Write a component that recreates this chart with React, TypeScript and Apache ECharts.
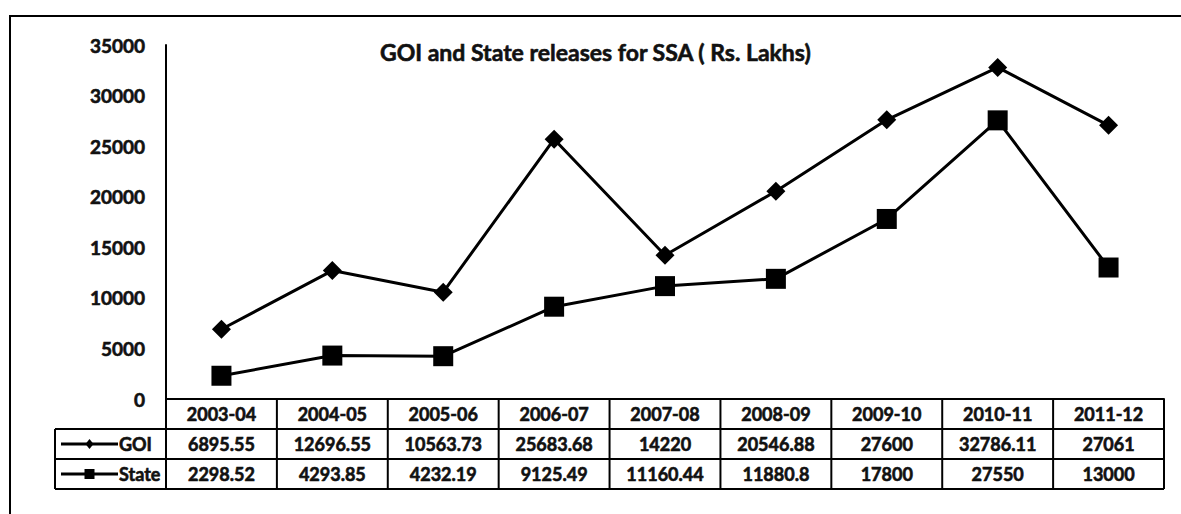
import React, { useEffect, useRef } from "react";
import * as echarts from "echarts";

// Financial years shown on the category axis / table header
const categories = [
  "2003-04",
  "2004-05",
  "2005-06",
  "2006-07",
  "2007-08",
  "2008-09",
  "2009-10",
  "2010-11",
  "2011-12",
];

// Releases in Rs. Lakhs
const goiValues = [6895.55, 12696.55, 10563.73, 25683.68, 14220, 20546.88, 27600, 32786.11, 27061];
const stateValues = [2298.52, 4293.85, 4232.19, 9125.49, 11160.44, 11880.8, 17800, 27550, 13000];

const seriesNames = ["GOI", "State"];
const titleText = "GOI and State releases for SSA ( Rs. Lakhs)";

const FONT = 'Lato, "Open Sans", sans-serif';
const INK = "#000";
const TEXT = "#111";

export default function App() {
  const ref = useRef<HTMLDivElement>(null);

  useEffect(() => {
    document.body.style.margin = "0";
    const chart = echarts.init(ref.current!, null, { renderer: "svg" });

    const gridLeft = 166;
    const gridRight = 1164;
    const gridTop = 45;
    const axisY = 399;
    const rowH = 30;
    const legendLeft = 55;

    const heavy = { textBorderColor: TEXT, textBorderWidth: 0.6 };

    chart.setOption({
      animation: false,
      backgroundColor: "#fff",
      title: {
        text: titleText,
        left: 380,
        top: 40,
        padding: 0,
        textStyle: { fontFamily: FONT, fontWeight: "bold", fontSize: 23, color: TEXT, ...heavy },
      },
      grid: {
        left: gridLeft,
        top: gridTop,
        width: gridRight - gridLeft,
        height: axisY - gridTop,
      },
      xAxis: {
        type: "category",
        data: categories,
        boundaryGap: true,
        axisLine: { show: true, lineStyle: { color: INK, width: 2 } },
        axisTick: { show: false },
        axisLabel: {
          interval: 0,
          margin: 6,
          fontFamily: FONT,
          fontWeight: "bold",
          fontSize: 18,
          color: TEXT,
          ...heavy,
        },
        splitLine: { show: false },
      },
      yAxis: {
        type: "value",
        min: 0,
        max: 35000,
        interval: 5000,
        axisLine: { show: true, lineStyle: { color: INK, width: 2 } },
        axisTick: { show: false },
        splitLine: { show: false },
        axisLabel: {
          margin: 21,
          formatter: (v: number) => String(v),
          fontFamily: FONT,
          fontWeight: "bold",
          fontSize: 19,
          color: TEXT,
          ...heavy,
        },
      },
      series: [
        {
          name: seriesNames[0],
          type: "line",
          data: goiValues,
          symbol: "diamond",
          symbolSize: 19,
          lineStyle: { color: INK, width: 3 },
          itemStyle: { color: INK },
        },
        {
          name: seriesNames[1],
          type: "line",
          data: stateValues,
          symbol: "rect",
          symbolSize: 20,
          lineStyle: { color: INK, width: 3 },
          itemStyle: { color: INK },
        },
      ],
    });

    // Data table under the plot, aligned to the category axis
    const n = categories.length;
    const colW = (gridRight - gridLeft) / n;
    const centers = categories.map((_, i) => chart.convertToPixel({ xAxisIndex: 0 }, i) as number);
    const tableBottom = axisY + 3 * rowH;
    const lineStyle = { stroke: INK, lineWidth: 2 };
    const cellText = {
      fontFamily: FONT,
      fontWeight: "bold",
      fontSize: 18,
      fill: TEXT,
      stroke: TEXT,
      lineWidth: 0.6,
    };

    const elements: any[] = [];

    // outer frame
    elements.push({
      type: "rect",
      shape: { x: 10, y: 16, width: 1300, height: 700 },
      style: { fill: "none", stroke: INK, lineWidth: 2 },
      silent: true,
    });

    // horizontal rules
    [1, 2, 3].forEach((k) => {
      const y = axisY + k * rowH;
      elements.push({ type: "line", shape: { x1: legendLeft, y1: y, x2: gridRight, y2: y }, style: lineStyle });
    });

    // vertical rules
    for (let k = 0; k <= n; k++) {
      const x = gridLeft + k * colW;
      elements.push({ type: "line", shape: { x1: x, y1: axisY, x2: x, y2: tableBottom }, style: lineStyle });
    }
    elements.push({ type: "line", shape: { x1: legendLeft, y1: axisY + rowH, x2: legendLeft, y2: tableBottom }, style: lineStyle });

    // value rows
    [goiValues, stateValues].forEach((vals, r) => {
      const cy = axisY + (r + 1.5) * rowH;
      vals.forEach((v, i) => {
        elements.push({
          type: "text",
          x: centers[i],
          y: cy,
          style: { ...cellText, text: String(v), textAlign: "center", textVerticalAlign: "middle" },
        });
      });

      // legend key in the first column
      const keyL = legendLeft + 6;
      const keyR = legendLeft + 63;
      const keyC = (keyL + keyR) / 2;
      elements.push({ type: "line", shape: { x1: keyL, y1: cy, x2: keyR, y2: cy }, style: { stroke: INK, lineWidth: 3 } });
      if (r === 0) {
        elements.push({
          type: "polygon",
          shape: { points: [[keyC, cy - 5], [keyC + 4, cy], [keyC, cy + 5], [keyC - 4, cy]] },
          style: { fill: INK },
        });
      } else {
        elements.push({ type: "rect", shape: { x: keyC - 5, y: cy - 5, width: 10, height: 10 }, style: { fill: INK } });
      }
      elements.push({
        type: "text",
        x: keyR + 1,
        y: cy,
        style: { ...cellText, text: seriesNames[r], textAlign: "left", textVerticalAlign: "middle" },
      });
    });

    chart.setOption({ graphic: elements });

    return () => chart.dispose();
  }, []);

  return <div ref={ref} style={{ width: 1181, height: 514 }} />;
}
